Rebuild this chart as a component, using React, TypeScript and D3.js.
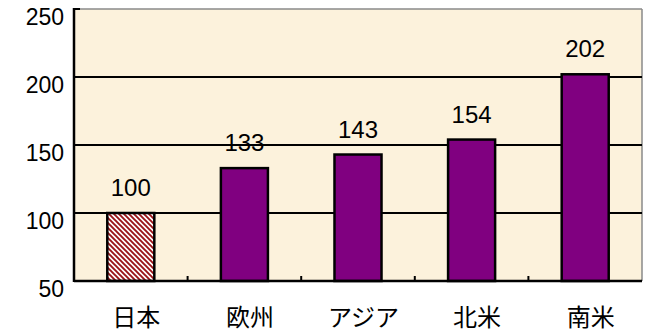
import React from "react";
import * as d3 from "d3";

const categories = ["日本", "欧州", "アジア", "北米", "南米"];
const values = [100, 133, 143, 154, 202];
const yTicks = [50, 100, 150, 200, 250];

const W = 659;
const H = 332;
const M = { left: 74, right: 17, top: 9, bottom: 51 };

export default function App() {
  const x = d3
    .scaleBand<string>()
    .domain(categories)
    .range([M.left, W - M.right])
    .paddingInner(0.586)
    .paddingOuter(0.293);
  const y = d3.scaleLinear().domain([50, 250]).range([H - M.bottom, M.top]);
  const step = x.step();
  const x0 = M.left;
  const x1 = W - M.right;
  const yb = y(50);
  const yt = y(250);
  const numFont = "'Liberation Sans', Arial, sans-serif";
  const cjkFont = "'Noto Sans CJK JP', sans-serif";

  return (
    <svg
      width={W}
      height={H}
      style={{ position: "absolute", left: 0, top: 0, background: "#fff" }}
    >
      <defs>
        <pattern id="hatch" patternUnits="userSpaceOnUse" width={5} height={5}>
          <rect width={5} height={5} fill="#ffffff" />
          <path
            d="M0,0 L5,5 M-1,4 L1,6 M4,-1 L6,1"
            stroke="#9a1418"
            strokeWidth={1.9}
          />
        </pattern>
      </defs>
      {/* plot background */}
      <rect x={x0} y={yt} width={x1 - x0} height={yb - yt} fill="#fcf2dc" />
      {/* plot border top/right */}
      <line x1={x0} x2={x1} y1={yt} y2={yt} stroke="#8a8a8a" strokeWidth={1.5} />
      <line x1={x1} x2={x1} y1={yt} y2={yb} stroke="#8a8a8a" strokeWidth={1.5} />
      {/* gridlines */}
      {yTicks
        .filter((t) => t !== 50 && t !== 250)
        .map((t) => (
          <line key={t} x1={x0} x2={x1} y1={y(t)} y2={y(t)} stroke="#000" strokeWidth={2} />
        ))}
      {/* bars */}
      {categories.map((c, i) => (
        <rect
          key={c}
          x={x(c)}
          y={y(values[i])}
          width={x.bandwidth()}
          height={yb - y(values[i])}
          fill={i === 0 ? "url(#hatch)" : "#800080"}
          stroke="#000"
          strokeWidth={2.5}
        />
      ))}
      {/* value labels */}
      {categories.map((c, i) => (
        <text
          key={c}
          x={(x(c) as number) + x.bandwidth() / 2}
          y={y(values[i]) - 17}
          textAnchor="middle"
          fontFamily={numFont}
          fontSize={24}
          fill="#000"
        >
          {values[i]}
        </text>
      ))}
      {/* axes */}
      <line x1={x0} x2={x0} y1={yt - 1} y2={yb + 1} stroke="#000" strokeWidth={2.5} />
      <line x1={x0} x2={x1} y1={yb} y2={yb} stroke="#000" strokeWidth={2.5} />
      <line x1={x0} x2={x0 + 6} y1={yt} y2={yt} stroke="#000" strokeWidth={2} />
      {categories.slice(1).map((c, i) => {
        const bx = x0 + step * (i + 1);
        return <line key={c} x1={bx} x2={bx} y1={yb} y2={yb - 5} stroke="#000" strokeWidth={2} />;
      })}
      {/* y tick labels */}
      {yTicks.map((t) => (
        <text
          key={t}
          x={64}
          y={y(t) + 16}
          textAnchor="end"
          fontFamily={numFont}
          fontSize={23}
          fill="#000"
        >
          {t}
        </text>
      ))}
      {/* x labels */}
      {categories.map((c) => (
        <text
          key={c}
          x={(x(c) as number) + x.bandwidth() / 2 + 5.5}
          y={326}
          textAnchor="middle"
          fontFamily={cjkFont}
          fontSize={24}
          fill="#000"
        >
          {c}
        </text>
      ))}
    </svg>
  );
}
